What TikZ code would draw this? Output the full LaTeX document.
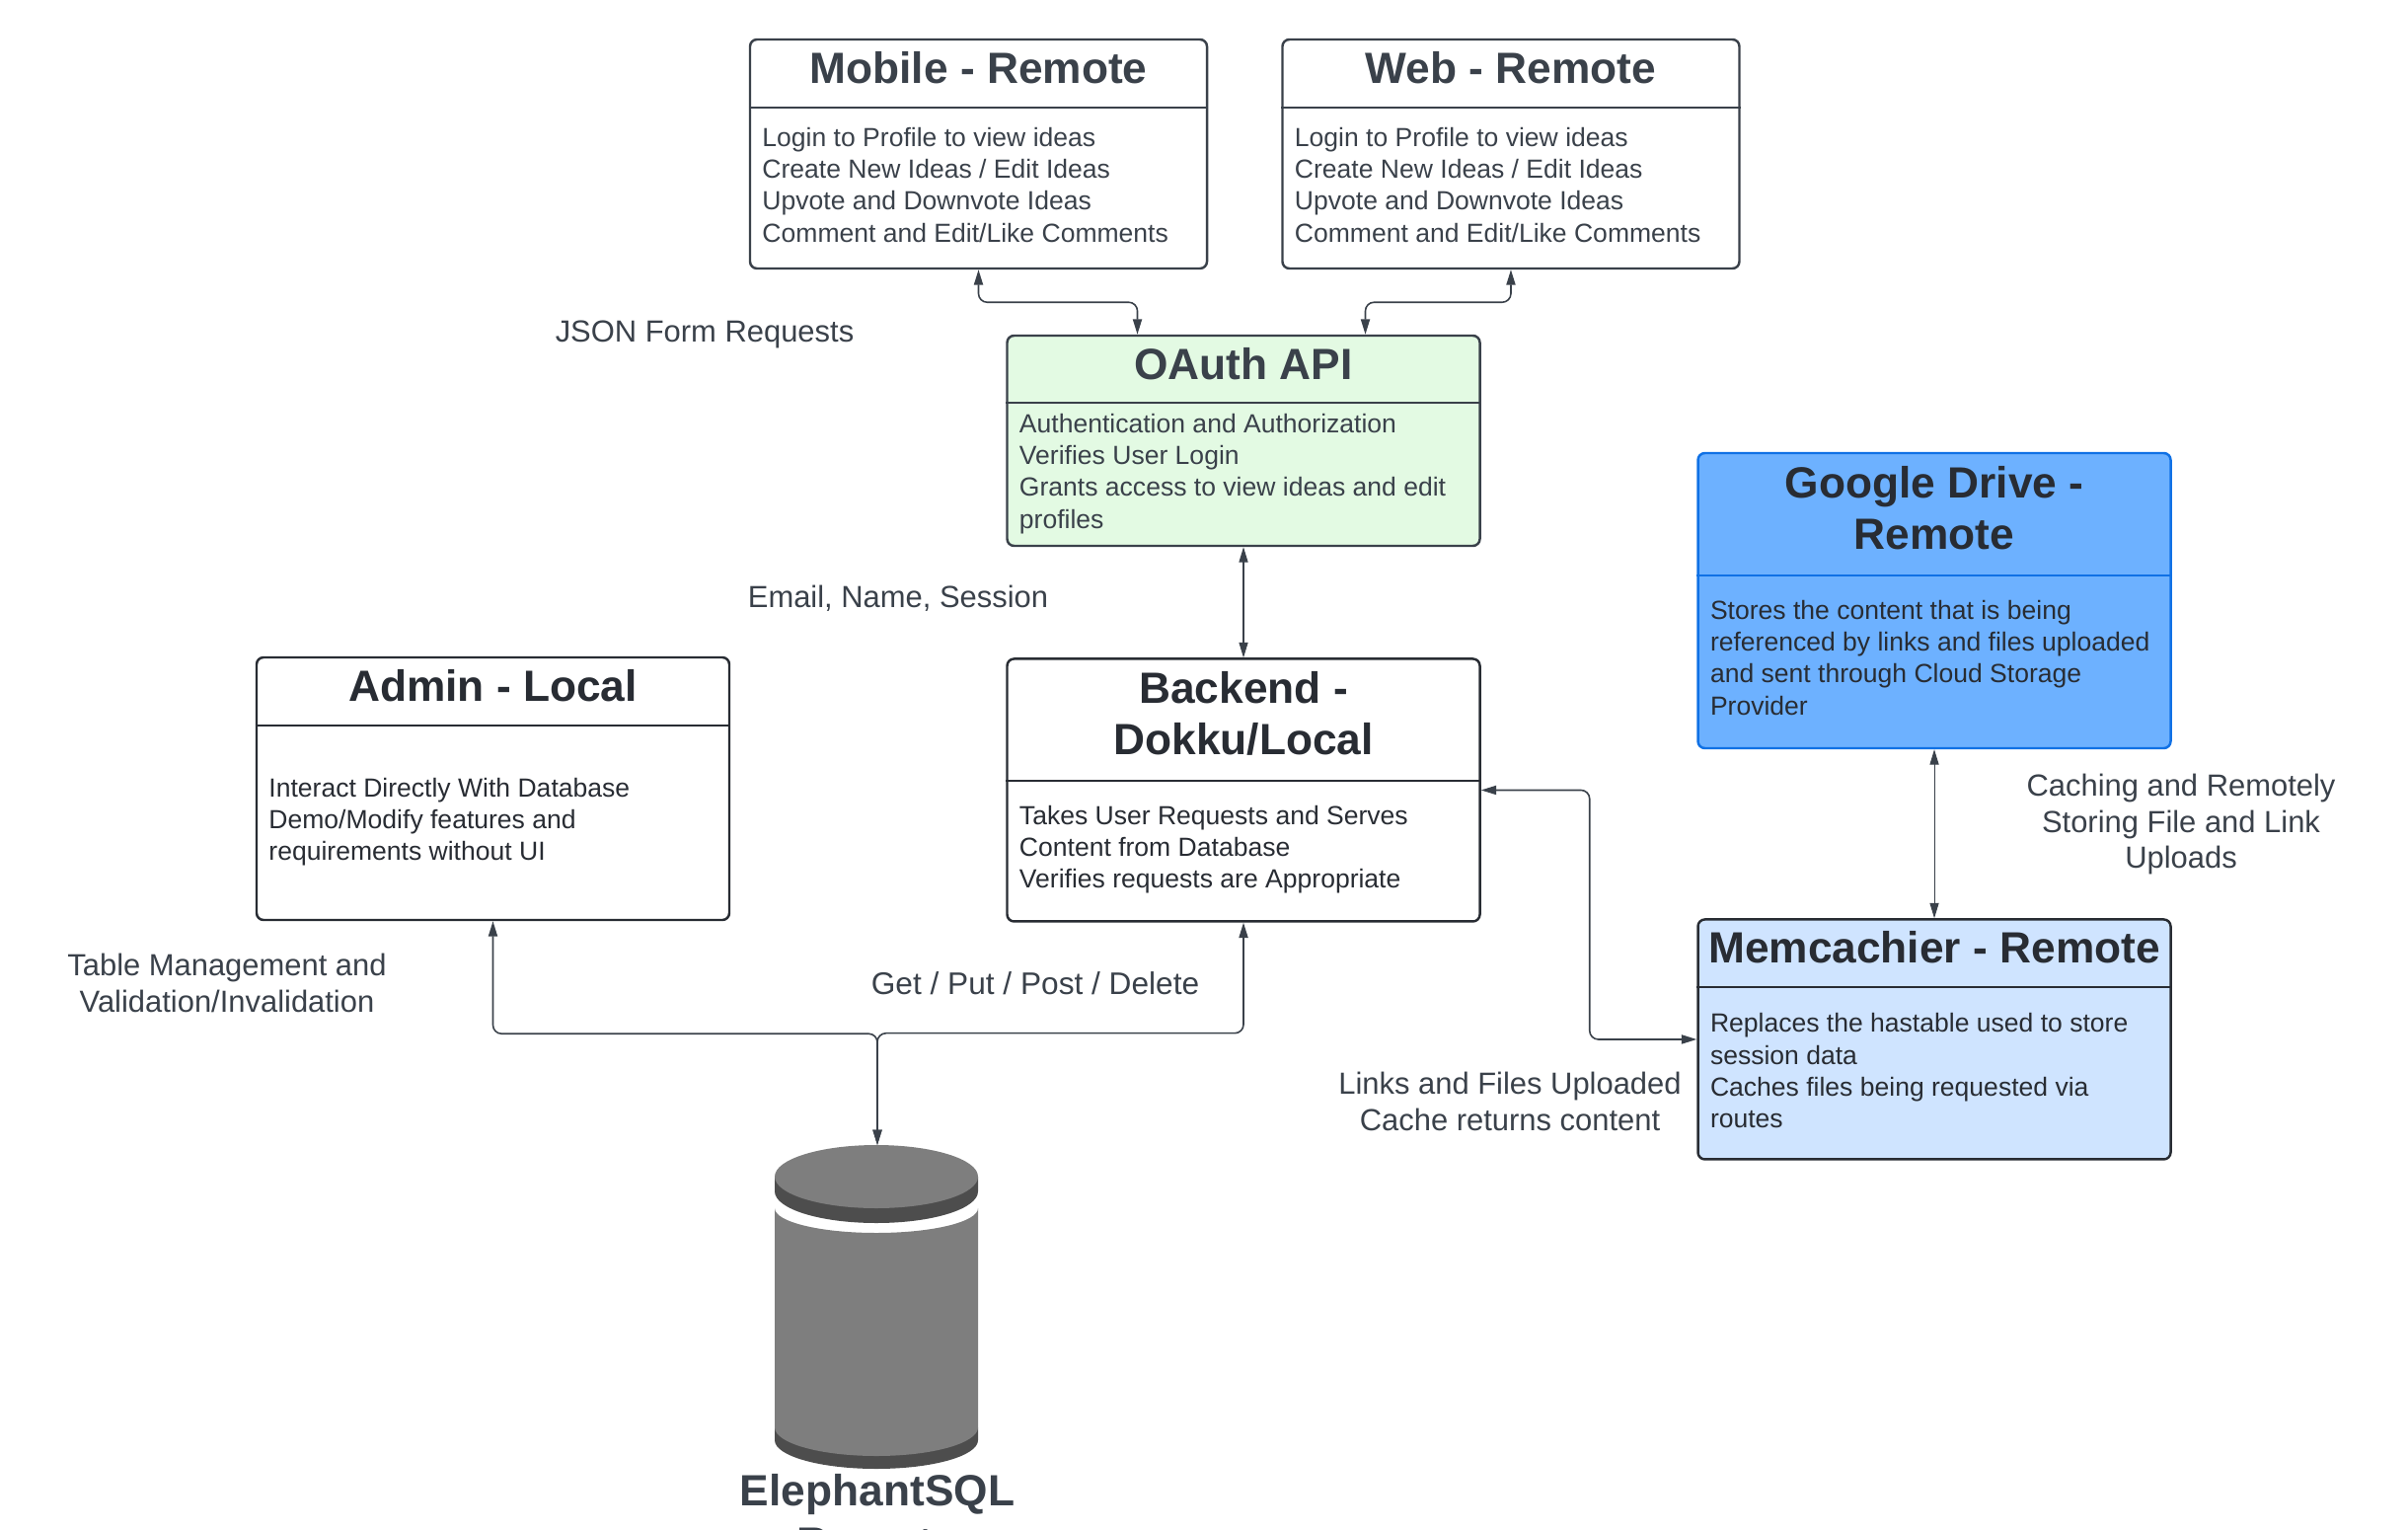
\documentclass[tikz,border=0pt]{standalone}
\usepackage{fontspec}
\setmainfont{Liberation Sans}
\usepackage{xcolor}
\usepackage{tikz}
\usetikzlibrary{arrows.meta,positioning,calc}
\definecolor{inkgray}{HTML}{3A414A}
\definecolor{inkdark}{HTML}{282C33}
\definecolor{oauthgreen}{HTML}{E3FAE3}
\definecolor{driveblue}{HTML}{6DB1FF}
\definecolor{driveline}{HTML}{1071E5}
\definecolor{cacheblue}{HTML}{CFE4FF}
\definecolor{dbgray}{HTML}{7E7E7E}
\definecolor{dbdark}{HTML}{4D4D4D}

\begin{document}
\begin{tikzpicture}[
  block/.style={rectangle, draw=inkgray, line width=0.7pt, rounded corners=2pt,
    minimum width=4.63cm, inner sep=0pt},
  wide/.style={block, minimum width=4.79cm},
  title/.style={anchor=north, inner sep=0pt, align=center, text=inkgray,
    font=\fontsize{12.6}{15}\selectfont\bfseries},
  body/.style={anchor=north west, inner sep=0pt, align=left, text=inkgray,
    font=\fontsize{7.55}{9.2}\selectfont},
  tag/.style={inner sep=0pt, align=center, text=inkgray,
    font=\fontsize{8.8}{10.4}\selectfont},
  rule/.style={draw=inkgray, line width=0.7pt},
  arr/.style={{Triangle[length=4.4pt,width=2.6pt]}-{Triangle[length=4.4pt,width=2.6pt]},
    draw=inkgray, line width=0.45pt, rounded corners=2.5pt}
]
\path[use as bounding box, clip] (0,0) rectangle (24.4,15.49);

% boxes
\node[block, minimum height=2.32cm] (mobile) at (9.915,13.93) {};
\node[block, minimum height=2.32cm, right=0.74cm of mobile] (web) {};
\node[wide, fill=oauthgreen, minimum height=2.13cm] (oauth) at (12.6,11.025) {};
\node[wide, draw=inkdark, minimum height=2.66cm, below=1.12cm of oauth] (backend) {};
\node[wide, draw=inkdark, minimum height=2.66cm] (admin) at (4.995,7.5) {};
\node[wide, draw=driveline, fill=driveblue, minimum height=2.99cm] (drive) at (19.6,9.405) {};
\node[wide, draw=inkdark, fill=cacheblue, minimum height=2.43cm, below=1.71cm of drive] (memcachier) {};

% header rules
\draw[rule] ([yshift=-0.70cm]mobile.north west) -- ([yshift=-0.70cm]mobile.north east);
\draw[rule] ([yshift=-0.70cm]web.north west) -- ([yshift=-0.70cm]web.north east);
\draw[rule] ([yshift=-0.69cm]oauth.north west) -- ([yshift=-0.69cm]oauth.north east);
\draw[rule, draw=inkdark] ([yshift=-1.25cm]backend.north west) -- ([yshift=-1.25cm]backend.north east);
\draw[rule, draw=inkdark] ([yshift=-0.70cm]admin.north west) -- ([yshift=-0.70cm]admin.north east);
\draw[rule, draw=driveline] ([yshift=-1.25cm]drive.north west) -- ([yshift=-1.25cm]drive.north east);
\draw[rule, draw=inkdark] ([yshift=-0.70cm]memcachier.north west) -- ([yshift=-0.70cm]memcachier.north east);

% titles
\node[title, below=0.125cm of mobile.north] (mobiletitle) {Mobile - Remote};
\node[title, below=0.125cm of web.north] (webtitle) {Web - Remote};
\node[title, below=0.125cm of oauth.north] (oauthtitle) {OAuth API};
\node[title, text=inkdark, below=0.13cm of backend.north] (backendtitle) {Backend -\\Dokku/Local};
\node[title, text=inkdark, below=0.125cm of admin.north] (admintitle) {Admin - Local};
\node[title, text=inkdark, below=0.135cm of drive.north] (drivetitle) {Google Drive -\\Remote};
\node[title, text=inkdark, below=0.125cm of memcachier.north] (memcachiertitle) {Memcachier - Remote};

% body text
\node[body] (mobilebody) at ([xshift=0.13cm,yshift=-0.895cm]mobile.north west)
  {Login to Profile to view ideas\\Create New Ideas / Edit Ideas\\Upvote and Downvote Ideas\\Comment and Edit/Like Comments};
\node[body] (webbody) at ([xshift=0.13cm,yshift=-0.895cm]web.north west)
  {Login to Profile to view ideas\\Create New Ideas / Edit Ideas\\Upvote and Downvote Ideas\\Comment and Edit/Like Comments};
\node[body] (oauthbody) at ([xshift=0.13cm,yshift=-0.795cm]oauth.north west)
  {Authentication and Authorization\\Verifies User Login\\Grants access to view ideas and edit\\profiles};
\node[body, text=inkdark] (backendbody) at ([xshift=0.13cm,yshift=-1.49cm]backend.north west)
  {Takes User Requests and Serves\\Content from Database\\Verifies requests are Appropriate};
\node[body, text=inkdark] (adminbody) at ([xshift=0.13cm,yshift=-1.225cm]admin.north west)
  {Interact Directly With Database\\Demo/Modify features and\\requirements without UI};
\node[body, text=inkdark] (drivebody) at ([xshift=0.13cm,yshift=-1.495cm]drive.north west)
  {Stores the content that is being\\referenced by links and files uploaded\\and sent through Cloud Storage\\Provider};
\node[body, text=inkdark] (memcachierbody) at ([xshift=0.13cm,yshift=-0.955cm]memcachier.north west)
  {Replaces the hastable used to store\\session data\\Caches files being requested via\\routes};

% database
\coordinate (dbtop) at (8.89,3.89);
\fill[dbdark] (7.85,1.03) -- (7.85,0.90) arc (180:360:1.03 and 0.29) -- (9.91,1.03) -- cycle;
\fill[dbgray] (7.85,3.25) arc (180:360:1.03 and 0.25) -- (9.91,1.03) arc (0:-180:1.03 and 0.29) -- cycle;
\fill[dbdark] (7.85,3.57) -- (7.85,3.42) arc (180:360:1.03 and 0.32) -- (9.91,3.57) -- cycle;
\fill[dbgray] (8.88,3.57) ellipse (1.03 and 0.32);
\node[title] (elephant) at (8.89,0.56) {ElephantSQL\\Remote};

% connectors
\draw[arr] (mobile.south) -- ++(0,-0.33) -| ([xshift=-1.075cm]oauth.north);
\draw[arr] (web.south) -- ++(0,-0.33) -| ([xshift=1.235cm]oauth.north);
\draw[arr, line width=0.3pt] (oauth.south) -- (backend.north);
\draw[arr, line width=0.3pt] (drive.south) -- (memcachier.north);
\draw[arr] (backend.east) -- ++(1.1,0) |- (memcachier.west);
\draw[arr] (admin.south) -- ++(0,-1.14) -| (dbtop);
\draw[arr] (backend.south) -- ++(0,-1.12) -| (dbtop);

% labels
\node[tag] (jsonlabel) at (7.14,12.10) {JSON Form Requests};
\node[tag] (emaillabel) at (9.10,9.425) {Email, Name, Session};
\node[tag] (tablelabel) at (2.30,5.53) {Table Management and\\Validation/Invalidation};
\node[tag, font=\fontsize{9}{10.4}\selectfont] (verblabel) at (10.49,5.53) {Get / Put / Post / Delete};
\node[tag] (linkslabel) at (15.30,4.33) {Links and Files Uploaded\\Cache returns content};
\node[tag] (cachinglabel) at (22.10,7.14) {Caching and Remotely\\Storing File and Link\\Uploads};
\end{tikzpicture}
\end{document}
